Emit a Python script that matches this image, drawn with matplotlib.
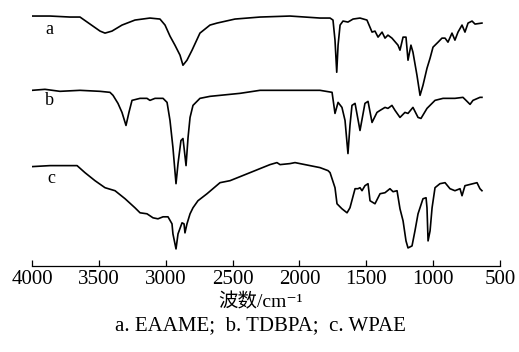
import numpy as np
import matplotlib
matplotlib.use("Agg")
import matplotlib.pyplot as plt

plt.rcParams["font.family"] = ["Liberation Serif", "DejaVu Serif", "Noto Sans CJK SC"]

# === Daten ===
wn_a = [4000, 3865, 3716, 3641, 3566, 3491, 3454, 3402, 3327, 3230,
        3118, 3043, 3005, 2968, 2931, 2893, 2871, 2841, 2803, 2744,
        2669, 2616, 2482, 2295, 2071, 1846, 1771, 1749, 1734, 1721,
        1711, 1696, 1674, 1637, 1599, 1547, 1495, 1457, 1435, 1412,
        1382, 1360, 1338, 1308, 1263, 1248, 1225, 1203, 1188, 1166,
        1151, 1121, 1098, 1076, 1046, 1023, 1001, 963, 934, 911,
        889, 859, 837, 814, 784, 762, 739, 709, 687, 635]
t_a = [249, 249, 248, 248, 241, 234, 232, 234, 240, 245,
       247, 246, 240, 229, 220, 210, 200, 205, 215, 232,
       240, 242, 246, 248, 249, 247, 247, 245, 225, 193,
       220, 240, 244, 243, 246, 247, 245, 233, 234, 228,
       233, 227, 230, 227, 220, 215, 228, 228, 205, 220,
       213, 190, 170, 180, 197, 207, 218, 223, 227, 227,
       223, 232, 225, 233, 240, 233, 242, 244, 241, 242]

wn_b = [4000, 3903, 3791, 3641, 3491, 3417, 3394, 3357, 3327, 3297,
        3275, 3252, 3192, 3140, 3118, 3080, 3020, 2990, 2968, 2946,
        2923, 2908, 2886, 2871, 2863, 2848, 2833, 2818, 2796, 2744,
        2669, 2594, 2444, 2295, 2071, 1846, 1756, 1734, 1711, 1682,
        1659, 1637, 1622, 1607, 1584, 1547, 1510, 1487, 1457, 1420,
        1397, 1360, 1338, 1308, 1285, 1248, 1211, 1188, 1151, 1113,
        1091, 1046, 986, 926, 837, 777, 754, 724, 702, 650, 635]
t_b = [175, 176, 174, 175, 174, 173, 170, 162, 153, 140,
       153, 165, 167, 167, 165, 167, 167, 163, 145, 118,
       82, 102, 125, 127, 118, 100, 128, 148, 160, 167,
       169, 170, 172, 175, 175, 175, 173, 152, 163, 158,
       145, 112, 140, 160, 162, 135, 162, 164, 143, 153,
       155, 158, 157, 160, 155, 148, 153, 152, 158, 148,
       147, 157, 165, 167, 167, 168, 165, 161, 165, 168, 168]

wn_c = [4000, 3865, 3753, 3663, 3604, 3529, 3454, 3379, 3304, 3230,
        3192, 3140, 3095, 3058, 3020, 2983, 2953, 2946, 2923, 2908,
        2878, 2863, 2856, 2841, 2818, 2796, 2759, 2691, 2594, 2519,
        2444, 2332, 2295, 2220, 2168, 2145, 2071, 2033, 1996, 1921,
        1846, 1786, 1771, 1734, 1719, 1682, 1644, 1622, 1584, 1562,
        1547, 1532, 1510, 1487, 1472, 1435, 1397, 1360, 1323, 1300,
        1270, 1248, 1225, 1203, 1188, 1158, 1136, 1113, 1076, 1053,
        1046, 1038, 1023, 1008, 986, 949, 911, 874, 837, 799,
        784, 762, 702, 672, 650, 635]
t_c = [99, 100, 100, 100, 93, 85, 78, 75, 67, 58,
       53, 52, 48, 47, 49, 49, 42, 32, 17, 32,
       43, 42, 33, 42, 52, 58, 65, 72, 83, 85,
       89, 95, 97, 101, 103, 101, 102, 103, 102, 100,
       98, 95, 93, 78, 62, 57, 53, 58, 77, 77,
       78, 75, 80, 82, 65, 62, 72, 73, 77, 74,
       75, 57, 45, 25, 18, 20, 35, 52, 67, 68,
       58, 25, 35, 58, 78, 82, 83, 77, 75, 77,
       70, 80, 82, 83, 77, 75]

labels = ["a", "b", "c"]
label_pos = [(3873, 236), (3873, 165), (3858, 87)]
xticks = [4000, 3500, 3000, 2500, 2000, 1500, 1000, 500]

# === Plot ===
fig = plt.figure(figsize=(5.19, 3.52), dpi=100)
ax = fig.add_axes([32 / 519, 1 - 266 / 352, 468 / 519, 261 / 352])

for wn, t in [(wn_a, t_a), (wn_b, t_b), (wn_c, t_c)]:
    ax.plot(wn, t, color="black", linewidth=1.2)

for lab, (x, y) in zip(labels, label_pos):
    ax.text(x, y, lab, fontsize=13, ha="center", va="center")

ax.set_xlim(4000, 500)
ax.set_ylim(0, 260)
ax.set_xticks(xticks)
ax.set_yticks([])
for s in ["left", "right", "top"]:
    ax.spines[s].set_visible(False)
ax.spines["bottom"].set_linewidth(0.9)
ax.tick_params(axis="x", direction="in", length=4, width=0.9, labelsize=15, pad=3)

fig.text(261 / 519, 1 - 302 / 352, "波数/cm⁻¹", fontsize=14, ha="center", va="center")
fig.text(260 / 519, 1 - 326 / 352, "a. EAAME;  b. TDBPA;  c. WPAE",
         fontsize=15, ha="center", va="center")

fig.savefig("out.png", dpi=100)
